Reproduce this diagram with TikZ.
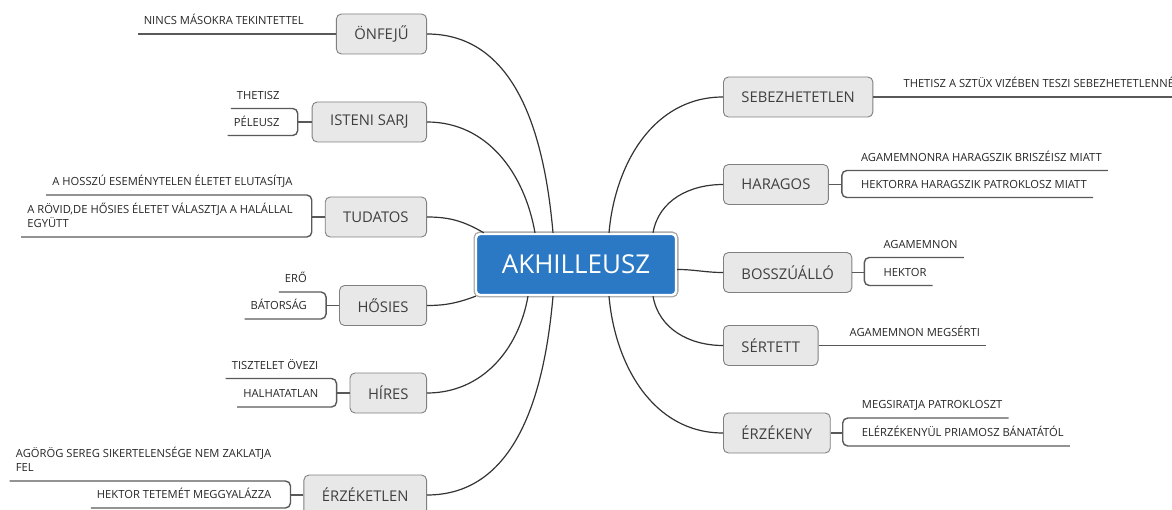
\documentclass[tikz,border=0pt]{standalone}
\usepackage{fontspec}
\setmainfont{Open Sans}
\definecolor{hubblue}{RGB}{43,121,196}

\begin{document}
\begin{tikzpicture}[x=1pt,y=-1pt,
	hub/.style={fill=hubblue, draw=white, line width=2.4pt, preaction={draw=black!35, line width=5pt}, rounded corners=4pt, text=white, font=\fontsize{26}{30}\selectfont, minimum width=200pt, minimum height=61pt},
	branch/.style={draw=black!50, fill=black!9, rounded corners=5pt, line width=0.9pt, text=black!75, font=\fontsize{14.8}{17}\selectfont, inner xsep=18pt, minimum height=40pt},
	leaf/.style={text=black!85, font=\fontsize{11.2}{14}\selectfont, inner xsep=6pt, inner ysep=9pt, text depth=0pt, align=left},
	twig/.style={draw=black!65, line width=1.4pt},
	limb/.style={draw=black!80, line width=1.2pt}]
				\useasboundingbox (0,0) rectangle (1172,510);
				
				\node[hub] (akh) at (576,264.5) {AKHILLEUSZ};
				
				\node[branch, anchor=east] (onfej) at (427,34) {ÖNFEJŰ};
				\node[branch, anchor=east] (isten) at (427,122) {ISTENI SARJ};
				\node[branch, anchor=east] (tudat) at (427,217) {TUDATOS};
				\node[branch, anchor=east] (hosies) at (427,305.5) {HŐSIES};
				\node[branch, anchor=east] (hires) at (427,393) {HÍRES};
				\node[branch, anchor=east] (erzkt) at (427,495) {ÉRZÉKETLEN};
				
				\node[branch, anchor=west] (sebez) at (723,97) {SEBEZHETETLEN};
				\node[branch, anchor=west] (harag) at (723,184.5) {HARAGOS};
				\node[branch, anchor=west] (bossz) at (723,272.5) {BOSSZÚÁLLÓ};
				\node[branch, anchor=west] (sert) at (723,345.5) {SÉRTETT};
				\node[branch, anchor=west] (erzk) at (723,433) {ÉRZÉKENY};
				
				\draw[limb] (onfej.east) to[out=0,in=95] ([xshift=-23pt]akh.north);
				\draw[limb] (isten.east) to[out=0,in=100] ([xshift=-41pt]akh.north);
				\draw[limb] (tudat.east) to[out=0,in=150] ([xshift=9pt]akh.north west);
				\draw[limb] (hosies.east) to[out=0,in=200] ([xshift=1pt]akh.south west);
				\draw[limb] (hires.east) to[out=0,in=-100] ([xshift=-48pt]akh.south);
				\draw[limb] (erzkt.east) to[out=0,in=-95] ([xshift=-23pt]akh.south);
				\draw[limb] (sebez.west) to[out=180,in=85] ([xshift=33pt]akh.north);
				\draw[limb] (harag.west) to[out=180,in=80] ([xshift=77pt]akh.north);
				\draw[limb] (bossz.west) to[out=180,in=0] ([yshift=-5pt]akh.east);
				\draw[limb] (sert.west) to[out=180,in=-80] ([xshift=77pt]akh.south);
				\draw[limb] (erzk.west) to[out=180,in=-85] ([xshift=33pt]akh.south);
				
				\node[leaf, anchor=south east] (nincs) at ([xshift=-26pt]onfej.west) {NINCS MÁSOKRA TEKINTETTEL};
				\draw[twig] (onfej.west) -- (nincs.south west);
				
				\coordinate (isten-b) at ([xshift=-14pt]isten.west);
				\node[leaf, anchor=south east] (thetisz) at ([shift={(-12pt,13.5pt)}]isten-b) {THETISZ};
				\node[leaf, anchor=south east] (peleusz) at ([shift={(-12pt,-13.5pt)}]isten-b) {PÉLEUSZ};
				\draw[twig] (isten.west) -- (isten-b);
				\draw[twig, rounded corners=5pt] (thetisz.south west) -- (thetisz.south west -| isten-b) -- (peleusz.south west -| isten-b) -- (peleusz.south west);
				
				\coordinate (tudat-b) at ([xshift=-13pt]tudat.west);
				\node[leaf, anchor=south east] (hosszu) at ([shift={(-13pt,22pt)}]tudat-b) {A HOSSZÚ ESEMÉNYTELEN ÉLETET ELUTASÍTJA};
				\node[leaf, anchor=south east] (rovid) at ([shift={(-13pt,-20pt)}]tudat-b) {A RÖVID,DE HŐSIES ÉLETET VÁLASZTJA A HALÁLLAL\\EGYÜTT};
				\draw[twig] (tudat.west) -- (tudat-b);
				\draw[twig, rounded corners=5pt] (hosszu.south west) -- (hosszu.south west -| tudat-b) -- (rovid.south west -| tudat-b) -- (rovid.south west);
				
				\coordinate (hosies-b) at ([xshift=-13pt]hosies.west);
				\node[leaf, anchor=south east] (ero) at ([shift={(-13pt,13.5pt)}]hosies-b) {ERŐ};
				\node[leaf, anchor=south east] (bator) at ([shift={(-13pt,-13.5pt)}]hosies-b) {BÁTORSÁG};
				\draw[twig] (hosies.west) -- (hosies-b);
				\draw[twig, rounded corners=5pt] (ero.south west) -- (ero.south west -| hosies-b) -- (bator.south west -| hosies-b) -- (bator.south west);
				
				\coordinate (hires-b) at ([xshift=-13pt]hires.west);
				\node[leaf, anchor=south east] (tiszt) at ([shift={(-12pt,14.5pt)}]hires-b) {TISZTELET ÖVEZI};
				\node[leaf, anchor=south east] (halh) at ([shift={(-12pt,-14pt)}]hires-b) {HALHATATLAN};
				\draw[twig] (hires.west) -- (hires-b);
				\draw[twig, rounded corners=5pt] (tiszt.south west) -- (tiszt.south west -| hires-b) -- (halh.south west -| hires-b) -- (halh.south west);
				
				\coordinate (erzkt-b) at ([xshift=-13pt]erzkt.west);
				\node[leaf, anchor=south east] (agorog) at ([shift={(-13pt,14pt)}]erzkt-b) {AGÖRÖG SEREG SIKERTELENSÉGE NEM ZAKLATJA\\FEL};
				\node[leaf, anchor=south east] (tetem) at ([shift={(-13pt,-13pt)}]erzkt-b) {HEKTOR TETEMÉT MEGGYALÁZZA};
				\draw[twig] (erzkt.west) -- (erzkt-b);
				\draw[twig, rounded corners=5pt] (agorog.south west) -- (agorog.south west -| erzkt-b) -- (tetem.south west -| erzkt-b) -- (tetem.south west);
				
				\node[leaf, anchor=south west] (sztux) at ([xshift=24pt]sebez.east) {THETISZ A SZTÜX VIZÉBEN TESZI SEBEZHETETLENNÉ};
				\draw[twig] (sebez.east) -- (sztux.south east);
				
				\coordinate (harag-b) at ([xshift=13pt]harag.east);
				\node[leaf, anchor=south west] (briszeis) at ([shift={(13pt,14pt)}]harag-b) {AGAMEMNONRA HARAGSZIK BRISZÉISZ MIATT};
				\node[leaf, anchor=south west] (patrok) at ([shift={(13pt,-13pt)}]harag-b) {HEKTORRA HARAGSZIK PATROKLOSZ MIATT};
				\draw[twig] (harag.east) -- (harag-b);
				\draw[twig, rounded corners=5pt] (briszeis.south east) -- (briszeis.south east -| harag-b) -- (patrok.south east -| harag-b) -- (patrok.south east);
				
				\coordinate (bossz-b) at ([xshift=12pt]bossz.east);
				\node[leaf, anchor=south west] (agam) at ([shift={(13pt,15pt)}]bossz-b) {AGAMEMNON};
				\node[leaf, anchor=south west] (hektor) at ([shift={(13pt,-13pt)}]bossz-b) {HEKTOR};
				\draw[twig] (bossz.east) -- (bossz-b);
				\draw[twig, rounded corners=5pt] (agam.south east) -- (agam.south east -| bossz-b) -- (hektor.south east -| bossz-b) -- (hektor.south east);
				
				\node[leaf, anchor=south west] (megsert) at ([xshift=25pt]sert.east) {AGAMEMNON MEGSÉRTI};
				\draw[twig] (sert.east) -- (megsert.south east);
				
				\coordinate (erzk-b) at ([xshift=12pt]erzk.east);
				\node[leaf, anchor=south west] (megsir) at ([shift={(13pt,15pt)}]erzk-b) {MEGSIRATJA PATROKLOSZT};
				\node[leaf, anchor=south west] (priam) at ([shift={(13pt,-13pt)}]erzk-b) {ELÉRZÉKENYÜL PRIAMOSZ BÁNATÁTÓL};
				\draw[twig] (erzk.east) -- (erzk-b);
				\draw[twig, rounded corners=5pt] (megsir.south east) -- (megsir.south east -| erzk-b) -- (priam.south east -| erzk-b) -- (priam.south east);
			\end{tikzpicture}
\end{document}
